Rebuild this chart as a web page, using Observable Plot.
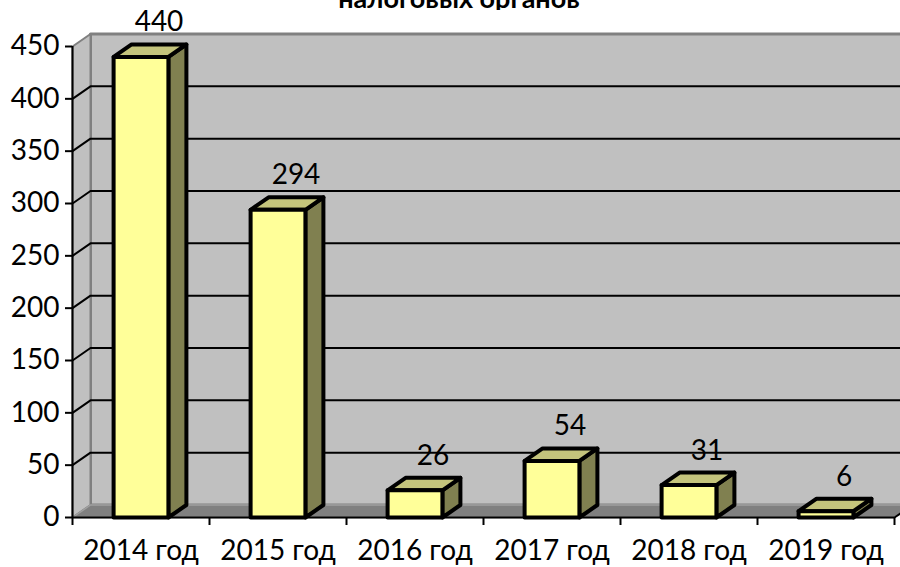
<!DOCTYPE html>
<html>
<head>
<meta charset="utf-8">
<script src="https://cdn.jsdelivr.net/npm/d3@7"></script>
<script src="https://cdn.jsdelivr.net/npm/@observablehq/plot@0.6"></script>
<style>
  html, body { margin: 0; padding: 0; background: white; overflow: hidden; width: 900px; height: 567px; }
  #wrap { position: relative; width: 900px; height: 567px; }
  #title { position: absolute; top: 0; left: 0; height: 10px; overflow: hidden; width: 900px; z-index: 2; }
  #title span { position: absolute; top: -16px; left: 0; width: 900px; padding-left: 18px; box-sizing: border-box;
    text-align: center; font: bold 27px Lato, sans-serif; line-height: 27px; color: black; white-space: nowrap; }
</style>
</head>
<body>
<div id="wrap">
<div id="title"><span>налоговых органов</span></div>
<div id="chart"></div>
</div>
<script>
// ---- data ----
const categories = ["2014 год", "2015 год", "2016 год", "2017 год", "2018 год", "2019 год"];
const values = [440, 294, 26, 54, 31, 6];
const yTicks = [0, 50, 100, 150, 200, 250, 300, 350, 400, 450];
const gridValues = [50, 100, 150, 200, 250, 300, 350, 400];

// ---- layout ----
const W = 900, H = 567;
const mL = 72, mR = 6, mT = 46, mB = 50;
const yMax = 450, nCat = categories.length;
// 3D depth offset (pixels) converted into data units
const DX = 18 * nCat / (W - mL - mR);
const DY = 12.5 * yMax / (H - mT - mB);
const halfBar = 0.2;

// walls / floor polygons (data coordinates)
const backWall = [
  {id: "b", x: DX, y: DY}, {id: "b", x: nCat + DX, y: DY},
  {id: "b", x: nCat + DX, y: yMax + DY}, {id: "b", x: DX, y: yMax + DY}
];
const sideWall = [
  {id: "s", x: 0, y: 0}, {id: "s", x: DX, y: DY},
  {id: "s", x: DX, y: yMax + DY}, {id: "s", x: 0, y: yMax}
];
const floor = [
  {id: "f", x: 0, y: 0}, {id: "f", x: nCat, y: 0},
  {id: "f", x: nCat + DX, y: DY}, {id: "f", x: DX, y: DY}
];
const grid = gridValues.flatMap(v => [
  {v, x: 0, y: v}, {v, x: DX, y: v + DY}, {v, x: nCat + DX, y: v + DY}
]);

const fronts = [], sides = [], tops = [];
values.forEach((v, i) => {
  const x1 = i + 0.5 - halfBar, x2 = i + 0.5 + halfBar;
  fronts.push({id: i, x: x1, y: 0}, {id: i, x: x2, y: 0}, {id: i, x: x2, y: v}, {id: i, x: x1, y: v});
  sides.push({id: i, x: x2, y: 0}, {id: i, x: x2 + DX, y: DY}, {id: i, x: x2 + DX, y: v + DY}, {id: i, x: x2, y: v});
  tops.push({id: i, x: x1, y: v}, {id: i, x: x2, y: v}, {id: i, x: x2 + DX, y: v + DY}, {id: i, x: x1 + DX, y: v + DY});
});

const poly = (data, fill, stroke, strokeWidth) => Plot.line(data, {
  x: "x", y: "y", z: "id", curve: "linear-closed", fill, stroke, strokeWidth, strokeLinejoin: "round"
});

const chart = Plot.plot({
  width: W, height: H,
  marginLeft: mL, marginRight: mR, marginTop: mT, marginBottom: mB,
  x: {domain: [0, nCat], axis: null, label: null},
  y: {domain: [0, yMax], axis: null, label: null},
  style: {fontFamily: "Lato, sans-serif", fontSize: "28px", color: "black", background: "white"},
  marks: [
    poly(backWall, "#c0c0c0", "#808080", 3),
    poly(sideWall, "#c0c0c0", "#808080", 2),
    poly(floor, "#808080", "#a0a0a0", 1.5),
    Plot.line(grid, {x: "x", y: "y", z: "v", stroke: "black", strokeWidth: 2}),
    poly(sides, "#808050", "black", 4),
    poly(tops, "#c4c47c", "black", 4),
    poly(fronts, "#ffff99", "black", 4),
    // axes
    Plot.ruleX([0], {y1: 0, y2: yMax, stroke: "black", strokeWidth: 2}),
    Plot.ruleY([0], {x1: 0, x2: nCat, stroke: "black", strokeWidth: 2}),
    Plot.link([0], {x1: nCat, y1: 0, x2: nCat + DX, y2: DY, stroke: "black", strokeWidth: 2}),
    Plot.axisY({ticks: yTicks, tickSize: 7, tickPadding: 6, tickFormat: d => String(d), label: null,
      fontSize: 28, stroke: "black", strokeWidth: 2}),
    Plot.axisX({ticks: d3.range(nCat + 1), tickSize: 8, tickFormat: () => "", label: null,
      stroke: "black", strokeWidth: 2}),
    Plot.text(categories, {x: (d, i) => i + 0.5, y: 0, text: d => d, dy: 23, lineAnchor: "top",
      fontSize: 28, fill: "black"}),
    // value labels
    Plot.text(values, {x: (d, i) => i + 0.5 + DX, y: d => d + DY, text: d => String(d), dy: -22,
      fontSize: 28, fill: "black"})
  ]
});
document.getElementById("chart").appendChild(chart);
</script>
</body>
</html>
